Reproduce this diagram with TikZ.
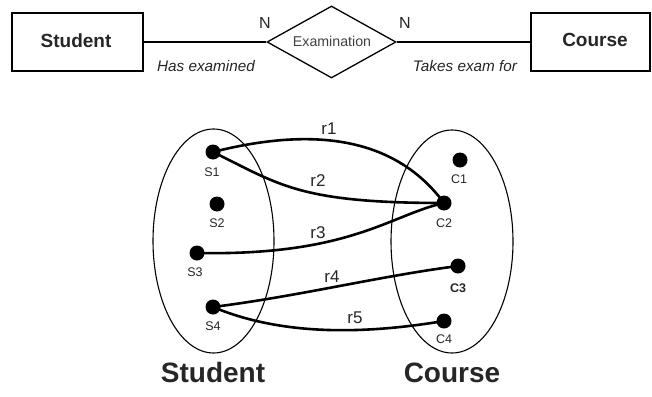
\documentclass[tikz,border=0pt]{standalone}
\usepackage{fontspec}
\setmainfont{Liberation Sans}
\usetikzlibrary{shapes.geometric}
\begin{document}
\begin{tikzpicture}[x=1pt,y=-1pt,
  entbox/.style={draw, line width=1.6pt, inner sep=0pt},
  relshape/.style={draw, diamond, line width=1.3pt, inner sep=0pt, minimum width=129pt, minimum height=72pt, aspect=1.79},
  conn/.style={line width=1.3pt},
  setshape/.style={draw, ellipse, line width=1.1pt, inner sep=0pt},
  dot/.style={circle, fill=black, inner sep=0pt, minimum size=15pt},
  rel/.style={line width=2.6pt},
  lbl/.style={anchor=base, inner sep=0pt, text=black!85},
  entfont/.style={font=\fontsize{19}{22}\selectfont\bfseries},
  bigfont/.style={font=\fontsize{28}{32}\selectfont\bfseries},
  rfont/.style={font=\fontsize{17}{20}\selectfont},
  smallfont/.style={font=\fontsize{12.5}{14}\selectfont},
  itfont/.style={font=\fontsize{15.3}{18}\selectfont\itshape},
  nfont/.style={font=\fontsize{16}{19}\selectfont},
  exfont/.style={font=\fontsize{14.2}{17}\selectfont}
]
\useasboundingbox (0,0) rectangle (652,396);

% ---- ER diagram ----
\node[entbox, minimum width=131pt, minimum height=58pt] (stud) at (77.5,42) {};
\node[entbox, minimum width=119pt, minimum height=58pt] (course) at (590.5,42) {};
\node[relshape] (exam) at (331.5,42) {};
\draw[conn] (stud.east) -- (exam.west);
\draw[conn] (exam.east) -- (course.west);
\node[lbl, entfont] (studT) at (76,48) {Student};
\node[lbl, entfont] (courseT) at (595,47) {Course};
\node[lbl, exfont, text=black!75] (examT) at (332,47) {Examination};
\node[lbl, nfont] (n1) at (265,29) {N};
\node[lbl, nfont] (n2) at (405,29) {N};
\node[lbl, itfont] (hasex) at (206,71) {Has examined};
\node[lbl, itfont] (takes) at (465,71) {Takes exam for};

% ---- sets ----
\node[setshape, minimum width=121pt, minimum height=224pt] (setS) at (213.5,241) {};
\node[setshape, minimum width=122pt, minimum height=223pt] (setC) at (452,241.5) {};

\node[dot] (S1) at (213,152) {};
\node[dot] (S2) at (217,204) {};
\node[dot] (S3) at (197,253) {};
\node[dot] (S4) at (213,307) {};
\node[dot] (C1) at (460,160) {};
\node[dot] (C2) at (444,203) {};
\node[dot] (C3) at (458,266) {};
\node[dot] (C4) at (444,321) {};

\draw[rel] (S1.center) .. controls (300,130) and (390,130) .. (C2.center);
\draw[rel] (S1.center) .. controls (280,185) and (300,203) .. (C2.center);
\draw[rel] (S3.center) .. controls (350,256) and (390,215) .. (C2.center);
\draw[rel] (S4.center) .. controls (300,296) and (380,276) .. (C3.center);
\draw[rel] (S4.center) .. controls (280,335) and (360,335) .. (C4.center);

\node[lbl, smallfont] (lS1) at (212,176) {S1};
\node[lbl, smallfont] (lS2) at (217,227) {S2};
\node[lbl, smallfont] (lS3) at (195,276) {S3};
\node[lbl, smallfont] (lS4) at (213,330) {S4};
\node[lbl, smallfont] (lC1) at (459,183) {C1};
\node[lbl, smallfont] (lC2) at (444,227) {C2};
\node[lbl, smallfont, font=\fontsize{12.5}{14}\selectfont\bfseries] (lC3) at (458,292) {C3};
\node[lbl, smallfont] (lC4) at (444,343) {C4};

\node[lbl, rfont] (r1) at (329,134) {r1};
\node[lbl, rfont] (r2) at (318,186) {r2};
\node[lbl, rfont] (r3) at (318,238) {r3};
\node[lbl, rfont] (r4) at (332,282) {r4};
\node[lbl, rfont] (r5) at (355,323) {r5};

\node[lbl, bigfont] (bigS) at (213,382) {Student};
\node[lbl, bigfont] (bigC) at (452,382) {Course};
\end{tikzpicture}
\end{document}
